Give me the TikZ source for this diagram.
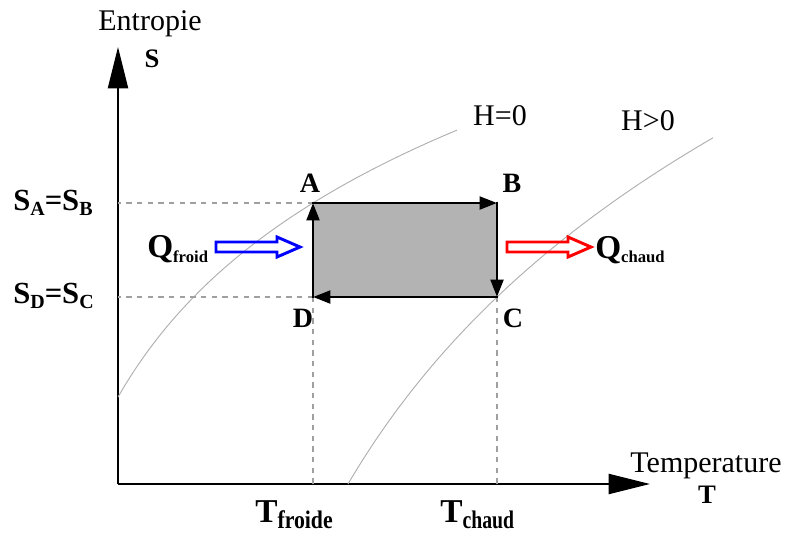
\documentclass[tikz,border=0pt]{standalone}
\usepackage{fontspec}
\setmainfont{Liberation Serif}
\usepackage{graphicx}
\usepackage{tikz}
\usetikzlibrary{arrows.meta}
\definecolor{curvegray}{RGB}{175,175,175}
\definecolor{guidegray}{RGB}{160,160,160}
\definecolor{cyclefill}{RGB}{179,179,179}
\newcommand{\fsz}[1]{\fontsize{#1}{#1}\selectfont}
\newcommand{\lowtxt}[3]{\raisebox{-#2}{\fsz{#1}#3}}

\begin{document}
\begin{tikzpicture}[x=0.75pt, y=-0.75pt,
  axis/.style={line width=1.5pt, -{Triangle[length=31pt, width=15pt]}},
  guide/.style={guidegray, line width=0.8pt, dash pattern=on 4pt off 4pt},
  isen/.style={curvegray, line width=0.7pt, samples=80},
  leg/.style={line width=2.2pt, line cap=rect, -{Triangle[length=13pt, width=9.5pt]}},
  qarrow/.style={line width=2.2pt, line join=miter},
  corner/.style={font=\fsz{21}\bfseries, inner sep=0pt, anchor=base},
  axlbl/.style={font=\fsz{22.5}, inner sep=0pt, anchor=base},
  sublbl/.style={font=\bfseries, inner sep=0pt, anchor=base west},
]
  \useasboundingbox (0,0) rectangle (788,533);

  % ---- Axes ----
  \coordinate (O) at (118,484);
  \coordinate (ytip) at (118,47);
  \coordinate (xtip) at (650,484);
  \draw[axis] (O) -- (ytip);
  \draw[axis] (O) -- (xtip);
  \node[axlbl] (entr) at (150,30) {Entropie};
  \node[axlbl, font=\fsz{20}\bfseries] (sax) at (152,67) {S};
  \node[axlbl] (temp) at (706,472) {Temperature};
  \node[axlbl, font=\fsz{20}\bfseries] (tax) at (707,503) {T};

  % ---- Isenthalpic curves ----
  \draw[isen, domain=118:457] plot (\x, {203-187*ln((\x-11)/302)});
  \draw[isen, domain=348:713] plot (\x, {297-323*ln((\x-158)/339)});
  \node[axlbl] (h0) at (500,125) {H=0};
  \node[axlbl] (hp) at (648,130) {H>0};

  % ---- Cycle ----
  \coordinate (A) at (313,203);
  \coordinate (B) at (497,203);
  \coordinate (C) at (497,297);
  \coordinate (D) at (313,297);
  \fill[cyclefill] (A) rectangle (C);

  \draw[guide] (A) -- (A -| O);
  \draw[guide] (D) -- (D -| O);
  \draw[guide] (D) -- (D |- O);
  \draw[guide] (C) -- (C |- O);

  \draw[leg] (A) -- (B);
  \draw[leg] (B) -- (C);
  \draw[leg] (C) -- (D);
  \draw[leg] (D) -- (A);

  \node[corner] (lA) at (310,192) {A};
  \node[corner] (lB) at (512,192) {B};
  \node[corner] (lC) at (513,327) {C};
  \node[corner] (lD) at (303,327) {D};

  % ---- Level labels ----
  \node[sublbl] (sab) at (13,210) {\fsz{23}S\lowtxt{15}{3.75pt}{A}=S\lowtxt{15}{3.75pt}{B}};
  \node[sublbl] (sdc) at (13,303) {\fsz{23}S\lowtxt{15}{3.75pt}{D}=S\lowtxt{15}{3.75pt}{C}};
  \node[sublbl] (tf) at (255,522) {\fsz{25}T\raisebox{-4.5pt}{\scalebox{0.86}[1]{\fsz{19}froide}}};
  \node[sublbl] (tc) at (440,522) {\fsz{25}T\raisebox{-4.5pt}{\scalebox{0.78}[1]{\fsz{19}chaud}}};

  % ---- Heat flows ----
  \draw[qarrow, blue] (216,242) -- (277,242) -- (277,237) -- (300,247)
    -- (277,257) -- (277,252) -- (216,252) -- cycle;
  \draw[qarrow, red] (507,242) -- (568,242) -- (568,237) -- (591,247)
    -- (568,257) -- (568,252) -- (507,252) -- cycle;
  \node[sublbl] (qf) at (147,257) {\fsz{25}Q\lowtxt{12.5}{3.75pt}{froid}};
  \node[sublbl] (qc) at (595,258) {\fsz{25}Q\lowtxt{12.5}{3pt}{chaud}};
\end{tikzpicture}
\end{document}
